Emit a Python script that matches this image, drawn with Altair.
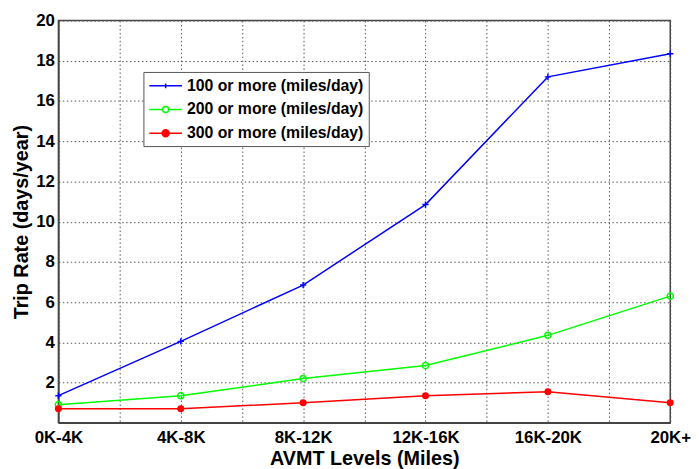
import json
import altair as alt
import pandas as pd

categories = ["0K-4K", "4K-8K", "8K-12K", "12K-16K", "16K-20K", "20K+"]
series_names = ["100 or more (miles/day)", "200 or more (miles/day)", "300 or more (miles/day)"]
rate_100 = [1.35, 4.05, 6.85, 10.85, 17.2, 18.35]
rate_200 = [0.9, 1.35, 2.2, 2.85, 4.35, 6.3]
rate_300 = [0.7, 0.7, 1.0, 1.35, 1.55, 1.0]
y_ticks = [2, 4, 6, 8, 10, 12, 14, 16, 18, 20]
x_ticks = [0, 0.5, 1, 1.5, 2, 2.5, 3, 3.5, 4, 4.5, 5]

colors = ["#0000ff", "#00ff00", "#ff0000"]
fills = ["transparent", "transparent", "#ff0000"]
plus_path = "M-1,0L1,0M0,-1L0,1"
legend_shapes = [
    "M-1,0L3.125,0M1.06,-0.3L1.06,0.3",
    "M-1,0L0.685,0M1.435,0L3.125,0M1.435,0A0.375,0.375,0,1,1,0.685,0A0.375,0.375,0,1,1,1.435,0Z",
    "M-1,0L3.125,0M1.5,0A0.44,0.44,0,1,1,0.62,0A0.44,0.44,0,1,1,1.5,0Z",
]

rows = []
for name, vals in zip(series_names, [rate_100, rate_200, rate_300]):
    for i, v in enumerate(vals):
        rows.append({"idx": i, "level": categories[i], "rate": v, "series": name})
df = pd.DataFrame(rows)

FONT = "Liberation Sans"
label_expr = "datum.value % 1 === 0 ? " + json.dumps(categories) + "[datum.value] : ''"

x_enc = alt.X(
    "idx:Q",
    scale=alt.Scale(domain=[0, 5], nice=False, zero=False),
    axis=alt.Axis(
        values=x_ticks,
        labelExpr=label_expr,
        title="AVMT Levels (Miles)",
        ticks=False,
        labelFlush=False,
        labelOverlap=False,
        labelPadding=7,
        titlePadding=3,
        labelFontSize=17,
        titleFontSize=20,
    ),
)
y_enc = alt.Y(
    "rate:Q",
    scale=alt.Scale(domain=[0, 20], nice=False),
    axis=alt.Axis(
        values=y_ticks,
        title="Trip Rate (days/year)",
        ticks=False,
        labelFlush=False,
        labelOverlap=False,
        labelPadding=4,
        titlePadding=4,
        labelFontSize=17,
        titleFontSize=20,
    ),
)

# explicit domain for the plotted marks (no legend)
color_scale = alt.Scale(domain=series_names, range=colors)
# data-driven domains for the legend-only layer
legend_stroke_scale = alt.Scale(range=colors)
legend_fill_scale = alt.Scale(range=fills)
legend_shape_scale = alt.Scale(range=legend_shapes)

legend_def = alt.Legend(
    title=None,
    orient="none",
    legendX=86,
    legendY=52,
    padding=5,
    strokeColor="#555555",
    fillColor="white",
    symbolSize=256,
    symbolStrokeWidth=1.5,
    symbolOpacity=1,
    labelFontSize=16,
    labelFont=FONT,
    labelFontWeight="bold",
    labelColor="black",
    labelLimit=400,
    labelOffset=21,
    rowPadding=7,
)

color_enc = alt.Color("series:N", scale=color_scale, legend=None)

lines = alt.Chart(df).mark_line(strokeWidth=1.5).encode(
    x=x_enc, y=y_enc, color=color_enc, detail="series:N",
)

plus_points = alt.Chart(df).transform_filter(
    alt.datum.series == series_names[0]
).mark_point(shape=plus_path, size=40, strokeWidth=1.5, filled=False, opacity=1).encode(
    x=x_enc, y=y_enc, color=color_enc,
)

open_points = alt.Chart(df).transform_filter(
    alt.datum.series == series_names[1]
).mark_point(shape="circle", size=40, strokeWidth=1.5, filled=False, opacity=1).encode(
    x=x_enc, y=y_enc, color=color_enc,
)

dot_points = alt.Chart(df).transform_filter(
    alt.datum.series == series_names[2]
).mark_point(shape="circle", size=50, filled=True, opacity=1).encode(
    x=x_enc, y=y_enc, color=color_enc,
)

legend_layer = alt.Chart(df).mark_point(size=40, strokeWidth=1.5, opacity=0).encode(
    x=x_enc, y=y_enc,
    stroke=alt.Stroke("series:N", scale=legend_stroke_scale, legend=legend_def),
    fill=alt.Fill("series:N", scale=legend_fill_scale, legend=legend_def),
    shape=alt.Shape("series:N", scale=legend_shape_scale, legend=legend_def),
)

chart = (
    alt.layer(lines, plus_points, open_points, dot_points, legend_layer)
    .properties(
        width=619,
        height=407,
        padding={"left": 51, "top": 10, "right": 21, "bottom": 44},
        autosize=alt.AutoSizeParams(type="none"),
        background="white",
    )
    .configure_view(stroke="#444444", strokeWidth=1.5)
    .configure_axis(
        labelFont=FONT,
        titleFont=FONT,
        labelFontWeight="bold",
        titleFontWeight="bold",
        labelColor="black",
        titleColor="black",
        grid=True,
        gridColor="#555555",
        gridDash=[1.5, 2.5],
        gridWidth=1,
        domainColor="#444444",
        domainWidth=1.5,
    )
)

chart.save("out.html", embed_options={"renderer": "svg", "actions": False})
